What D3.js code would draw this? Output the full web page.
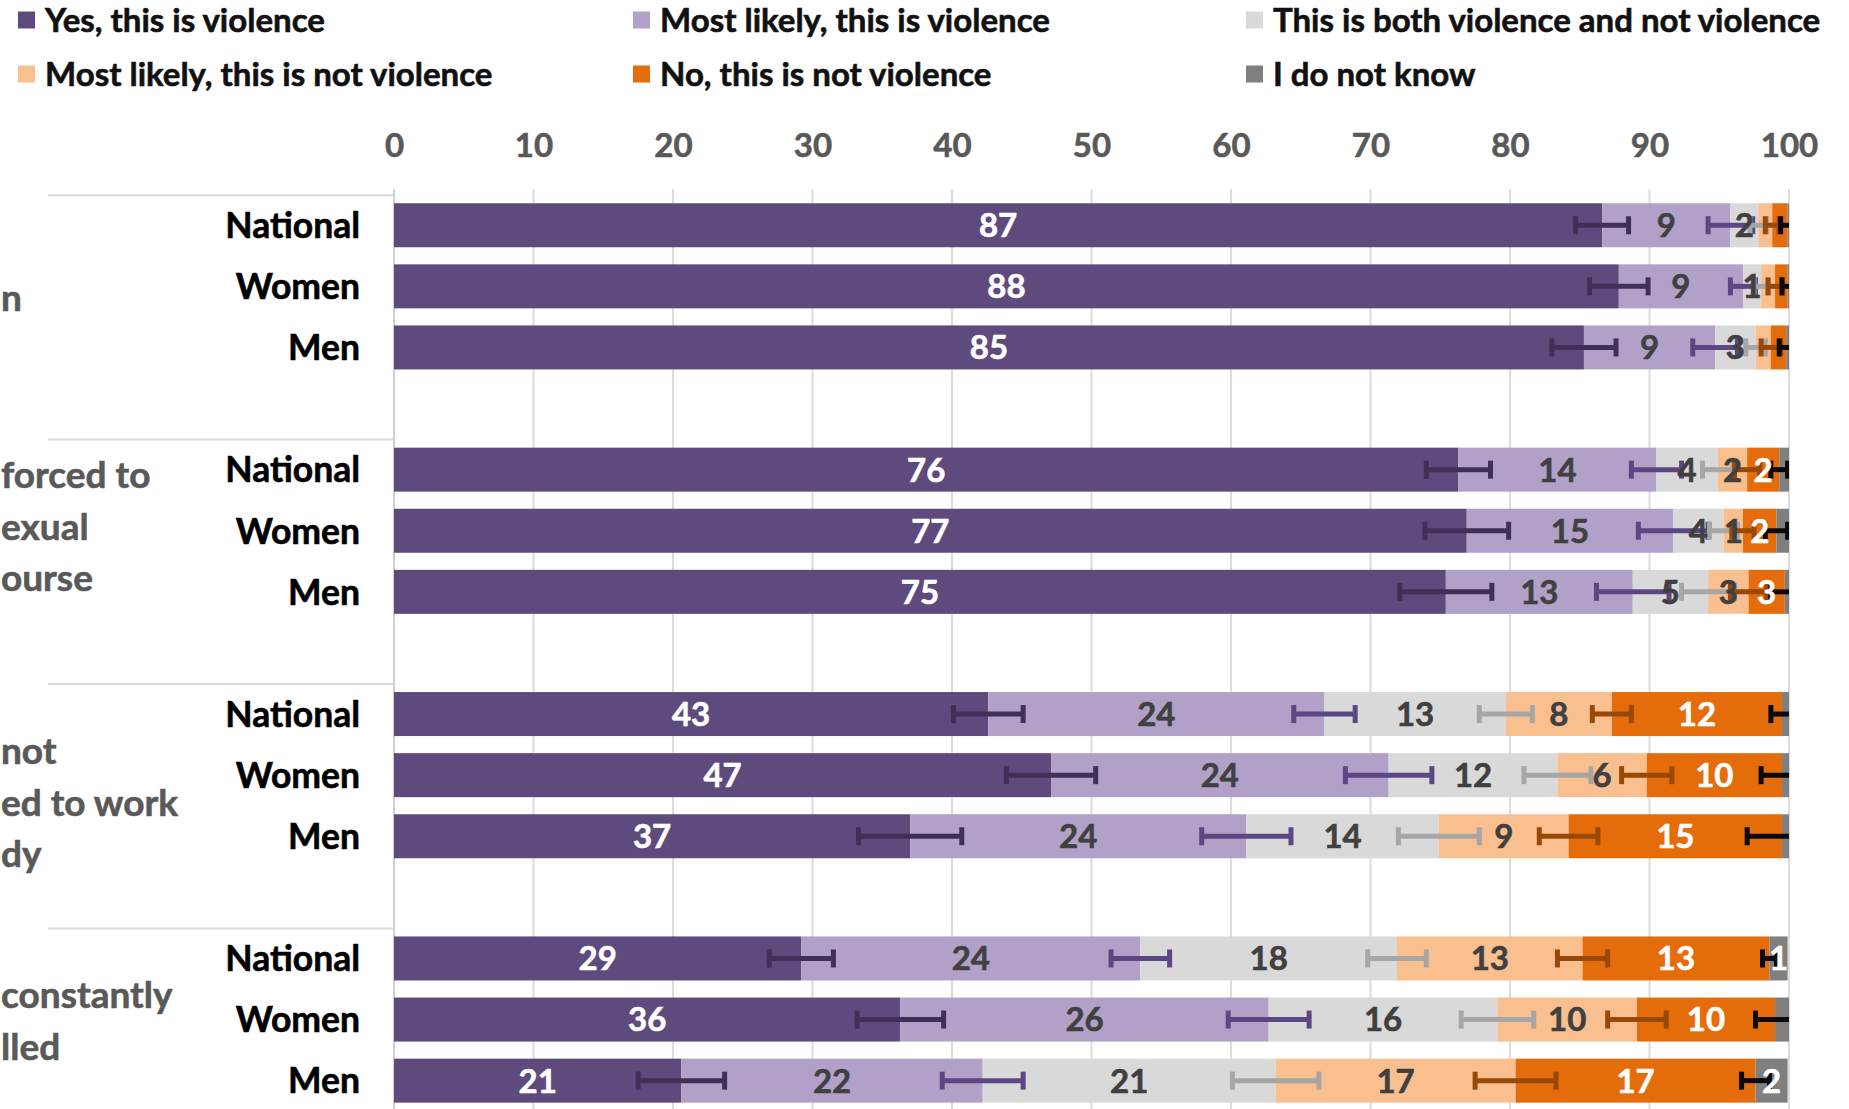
<!DOCTYPE html>
<html>
<head>
<meta charset="utf-8">
<script src="https://cdn.jsdelivr.net/npm/d3@7/dist/d3.min.js"></script>
<style>
  html, body { margin: 0; padding: 0; background: #ffffff; overflow: hidden; }
  svg { display: block; font-family: Lato, "Open Sans", sans-serif; }
  text { stroke-width: 0.6px; }
</style>
</head>
<body>
<svg id="chart" width="1849" height="1109"></svg>
<script>
// ---------------- DATA ----------------
const seriesNames = [
  "Yes, this is violence",
  "Most likely, this is violence",
  "This is both violence and not violence",
  "Most likely, this is not violence",
  "No, this is not violence",
  "I do not know"
];
const rowLabels = ["National", "Women", "Men"];
// visible (cropped) parts of the category labels, one list of lines per group
const categoryLines = [
  ["n"],
  ["forced to", "exual", "ourse"],
  ["not", "ed to work", "dy"],
  ["constantly", "lled"]
];
const tickValues = [0, 10, 20, 30, 40, 50, 60, 70, 80, 90, 100];

// values per series, rows in order: group1 N/W/M, group2 N/W/M, group3 N/W/M, group4 N/W/M
const yesValues      = [86.6, 87.8, 85.3, 76.3, 76.9, 75.4, 42.6, 47.1, 37.0, 29.2, 36.3, 20.6];
const likelyValues   = [ 9.2,  8.9,  9.4, 14.2, 14.8, 13.4, 24.1, 24.2, 24.1, 24.3, 26.4, 21.6];
const bothValues     = [ 2.0,  1.3,  2.9,  4.4,  3.6,  5.4, 13.0, 12.1, 13.8, 18.4, 16.4, 21.0];
const likelyNotValues= [ 1.0,  1.0,  1.1,  2.1,  1.4,  2.9,  7.6,  6.4,  9.3, 13.3, 10.0, 17.2];
const noValues       = [ 1.1,  0.9,  1.1,  2.3,  2.4,  2.6, 12.2,  9.7, 15.3, 13.4,  9.9, 17.2];
const dkValues       = [ 0.1,  0.1,  0.2,  0.7,  0.9,  0.3,  0.5,  0.5,  0.5,  1.3,  1.0,  2.3];

// error margins (±) at the end of each segment
const yesErr       = [1.9, 2.1, 2.3, 2.3, 3.0, 3.3, 2.5, 3.2, 3.7, 2.3, 3.1, 3.1];
const likelyErr    = [1.6, 0.9, 1.6, 1.8, 2.5, 2.6, 2.2, 3.1, 3.2, 2.1, 2.9, 2.9];
const bothErr      = [0.6, 0.5, 0.7, 1.1, 1.0, 1.9, 1.9, 2.4, 2.9, 2.1, 2.6, 3.1];
const likelyNotErr = [0.5, 0.5, 0.7, 0.9, 0.8, 1.3, 1.4, 1.8, 2.1, 1.8, 2.1, 2.9];
const noErr        = [0.5, 0.4, 0.5, 0.6, 0.8, 1.0, 0.8, 1.5, 2.5, 0.5, 1.4, 1.0];

// data labels shown on the bars (null = no label shown)
const yesLabels       = ["87","88","85","76","77","75","43","47","37","29","36","21"];
const likelyLabels    = ["9","9","9","14","15","13","24","24","24","24","26","22"];
const bothLabels      = ["2","1","3","4","4","5","13","12","14","18","16","21"];
const likelyNotLabels = [null,null,null,"2","1","3","8","6","9","13","10","17"];
const noLabels        = [null,null,null,"2","2","3","12","10","15","13","10","17"];
const dkLabels        = [null,null,null,null,null,null,null,null,null,"1",null,"2"];

// ---------------- STYLE ----------------
const fillColors  = ["#5e4a7d", "#b1a1c8", "#d9d9d9", "#f9bf8f", "#e46c0a", "#7f7f7f"];
const errColors   = ["#3f3056", "#5c4783", "#a6a6a6", "#984807", "#0a0a0a"];
const labelColors = ["#ffffff", "#404040", "#404040", "#404040", "#ffffff", "#ffffff"];

const W = 1849, H = 1109;
const svg = d3.select("#chart");

const values = [yesValues, likelyValues, bothValues, likelyNotValues, noValues, dkValues];
const errs   = [yesErr, likelyErr, bothErr, likelyNotErr, noErr];
const labels = [yesLabels, likelyLabels, bothLabels, likelyNotLabels, noLabels, dkLabels];

// slots: each group = 3 rows + 1 gap
const slots = [];
for (let g = 0; g < 4; g++) {
  for (let r = 0; r < 3; r++) slots.push(`g${g}r${r}`);
  slots.push(`g${g}gap`);
}
const rowSlot = i => `g${Math.floor(i / 3)}r${i % 3}`;

const x = d3.scaleLinear().domain([0, 100]).range([394, 1789]);
const y = d3.scaleBand().domain(slots).range([194.7, 194.7 + 16 * 61.1])
  .paddingInner(0.28).paddingOuter(0.14);

// ---------- Legend ----------
const legendPos = [
  {col: 0, row: 0}, {col: 1, row: 0}, {col: 2, row: 0},
  {col: 0, row: 1}, {col: 1, row: 1}, {col: 2, row: 1}
];
const colX = [18, 633, 1246];
const rowY = [20, 74];
const legend = svg.append("g");
seriesNames.forEach((name, i) => {
  const p = legendPos[i];
  const g = legend.append("g").attr("transform", `translate(${colX[p.col]},${rowY[p.row]})`);
  g.append("rect").attr("x", 0).attr("y", -8.5).attr("width", 17).attr("height", 17).attr("fill", fillColors[i]);
  g.append("text").attr("x", 27).attr("y", 0).attr("dy", "0.36em")
    .attr("font-size", 33).attr("font-weight", 700).attr("fill", "#111").attr("stroke", "#111").text(name);
});

// ---------- Gridlines ----------
const grid = svg.append("g");
grid.selectAll("line").data(tickValues).join("line")
  .attr("x1", d => x(d)).attr("x2", d => x(d))
  .attr("y1", 189).attr("y2", H)
  .attr("stroke", d => d === 0 ? "#cfcfcf" : "#dcdcdc").attr("stroke-width", 2);

// group separator lines on the label side
const groupTops = [0, 1, 2, 3].map(g => y(`g${g}r0`) - y.step() * y.paddingInner() / 2 + 0.5);
svg.append("g").selectAll("line").data(groupTops).join("line")
  .attr("x1", 48).attr("x2", x(0)).attr("y1", d => d).attr("y2", d => d)
  .attr("stroke", "#d9d9d9").attr("stroke-width", 2);

// ---------- Top axis ----------
const axis = svg.append("g").attr("transform", "translate(0,145)")
  .call(d3.axisTop(x).tickValues(tickValues).tickSize(0).tickPadding(0).tickFormat(d3.format("d")));
axis.select(".domain").remove();
axis.selectAll("text").attr("y", 0).attr("dy", "0.36em")
  .attr("font-size", 33).attr("font-weight", 700).attr("fill", "#595959").attr("stroke", "#595959")
  .attr("font-family", "Lato, 'Open Sans', sans-serif");

// ---------- Bars ----------
const clip = svg.append("clipPath").attr("id", "plotclip");
clip.append("rect").attr("x", x(0)).attr("y", 150).attr("width", x(100) - x(0)).attr("height", H);

const plot = svg.append("g").attr("clip-path", "url(#plotclip)");
const nRows = yesValues.length;
const segs = [], errBars = [], labs = [];
for (let i = 0; i < nRows; i++) {
  let acc = 0;
  for (let s = 0; s < values.length; s++) {
    const v = values[s][i];
    segs.push({row: i, s, x0: acc, x1: acc + v});
    if (s < errs.length) errBars.push({row: i, s, c: acc + v, e: errs[s][i]});
    if (labels[s][i] !== null) labs.push({row: i, s, c: acc + v / 2, t: labels[s][i]});
    acc += v;
  }
}

plot.selectAll("rect.seg").data(segs).join("rect").attr("class", "seg")
  .attr("x", d => x(d.x0)).attr("width", d => Math.max(0, x(d.x1) - x(d.x0)))
  .attr("y", d => y(rowSlot(d.row))).attr("height", y.bandwidth())
  .attr("fill", d => fillColors[d.s]);

const eb = plot.selectAll("g.err").data(errBars).join("g").attr("class", "err")
  .attr("transform", d => `translate(0,${y(rowSlot(d.row)) + y.bandwidth() / 2})`);
eb.append("line").attr("x1", d => x(d.c - d.e)).attr("x2", d => x(d.c + d.e))
  .attr("y1", 0).attr("y2", 0).attr("stroke", d => errColors[d.s]).attr("stroke-width", 5);
eb.append("line").attr("x1", d => x(d.c - d.e)).attr("x2", d => x(d.c - d.e))
  .attr("y1", -9).attr("y2", 9).attr("stroke", d => errColors[d.s]).attr("stroke-width", 5);
eb.append("line").attr("x1", d => x(d.c + d.e)).attr("x2", d => x(d.c + d.e))
  .attr("y1", -9).attr("y2", 9).attr("stroke", d => errColors[d.s]).attr("stroke-width", 5);

svg.append("g").selectAll("text").data(labs).join("text")
  .attr("x", d => x(d.c)).attr("y", d => y(rowSlot(d.row)) + y.bandwidth() / 2)
  .attr("dy", "0.36em").attr("text-anchor", "middle")
  .attr("font-size", 33).attr("font-weight", 700)
  .attr("fill", d => labelColors[d.s]).attr("stroke", d => labelColors[d.s]).text(d => d.t);

// ---------- Row labels ----------
svg.append("g").selectAll("text").data(d3.range(nRows)).join("text")
  .attr("x", 360).attr("y", i => y(rowSlot(i)) + y.bandwidth() / 2).attr("dy", "0.36em")
  .attr("text-anchor", "end").attr("font-size", 35.5).attr("font-weight", 700)
  .attr("fill", "#000").attr("stroke", "#000")
  .text(i => rowLabels[i % 3]);

// ---------- Category labels (only their visible parts; the chart is cropped at the left) ----------
const catTop = [298, 475, 751, 995];
categoryLines.forEach((lines, g) => {
  lines.forEach((t, k) => {
    svg.append("text").attr("x", 1).attr("y", catTop[g] + k * 51.5).attr("dy", "0.36em")
      .attr("text-anchor", "start").attr("font-size", 37).attr("font-weight", 700)
      .attr("fill", "#595959").attr("stroke", "#595959")
      .text(t);
  });
});
</script>
</body>
</html>
